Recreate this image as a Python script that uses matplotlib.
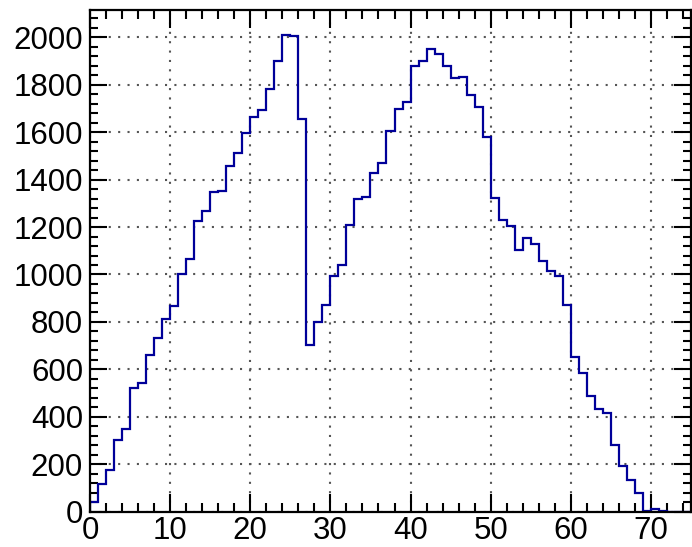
import matplotlib
matplotlib.use("Agg")
import matplotlib.pyplot as plt
import numpy as np
from matplotlib.ticker import MultipleLocator

plt.rcParams['font.family'] = ['Liberation Sans', 'DejaVu Sans']

bin_edges_start = 0
bin_width = 1
counts = [40, 116, 175, 301, 348, 522, 543, 659, 734, 813,
          867, 1001, 1067, 1227, 1269, 1347, 1353, 1457, 1511, 1595,
          1664, 1695, 1784, 1900, 2009, 2006, 1657, 704, 800, 873,
          995, 1039, 1209, 1318, 1325, 1428, 1472, 1607, 1696, 1727,
          1878, 1900, 1952, 1931, 1878, 1827, 1831, 1758, 1705, 1580,
          1322, 1231, 1203, 1103, 1155, 1127, 1057, 1015, 995, 873,
          654, 583, 486, 434, 417, 283, 192, 132, 78, 5,
          10, 5, 0, 0, 0]
x_ticks = [0, 10, 20, 30, 40, 50, 60, 70]
y_ticks = [0, 200, 400, 600, 800, 1000, 1200, 1400, 1600, 1800, 2000]

edges = bin_edges_start + bin_width * np.arange(len(counts) + 1)

fig = plt.figure(figsize=(6.92, 5.47), dpi=100)
ax = fig.add_axes([90/692, (547-511.7)/547, 601/692, (511.7-10)/547])

ax.stairs(counts, edges, color='#000099', linewidth=1.6, baseline=0, zorder=3)

ax.set_xlim(0, 75)
ax.set_ylim(0, 2115)
ax.set_xticks(x_ticks)
ax.set_yticks(y_ticks)
ax.xaxis.set_minor_locator(MultipleLocator(2))
ax.yaxis.set_minor_locator(MultipleLocator(40))

ax.grid(True, which='major', color='#555555', linestyle=(0, (1, 3.5)), linewidth=1.5)

ax.tick_params(which='both', direction='in', top=True, right=True,
               width=1.5, labelsize=22.5, colors='black')
ax.tick_params(axis='x', which='major', length=13, pad=3)
ax.tick_params(axis='x', which='minor', length=6.5)
ax.tick_params(axis='y', which='major', length=12, pad=5)
ax.tick_params(axis='y', which='minor', length=5.5)

for s in ax.spines.values():
    s.set_linewidth(1.6)
    s.set_zorder(5)

fig.savefig('out.png', dpi=100)
